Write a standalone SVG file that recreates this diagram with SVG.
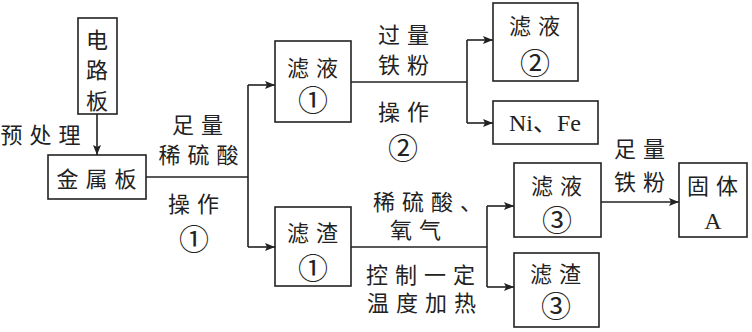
<svg xmlns="http://www.w3.org/2000/svg" width="752" height="332" viewBox="0 0 752 332">
<style>
.b{fill:#fff;stroke:#222;stroke-width:1.6}
.l{fill:none;stroke:#222;stroke-width:1.6}
text{font-family:"Noto Sans CJK SC","Noto Sans CJK JP",sans-serif;font-size:22px;fill:#222;text-anchor:middle;dominant-baseline:central;letter-spacing:7px}
.c{font-size:30px;letter-spacing:0}
.r{font-family:"Liberation Serif","Noto Sans CJK SC",serif;letter-spacing:0;font-size:24px}
</style>
<defs>
<marker id="a" viewBox="0 0 10 8" refX="10" refY="4" markerWidth="10" markerHeight="8" markerUnits="userSpaceOnUse" orient="auto">
<path d="M0,0L10,4L0,8L2,4z" fill="#222"/>
</marker>
</defs>
<g id="connectors">
<path class="l" d="M97,114V155" marker-end="url(#a)"/>
<path class="l" d="M146,177H248"/>
<path class="l" d="M248,85V247"/>
<path class="l" d="M248,85H275" marker-end="url(#a)"/>
<path class="l" d="M248,247H275" marker-end="url(#a)"/>
<path class="l" d="M351,82H467"/>
<path class="l" d="M467,40V123"/>
<path class="l" d="M467,40H493" marker-end="url(#a)"/>
<path class="l" d="M467,123H493" marker-end="url(#a)"/>
<path class="l" d="M351,247H487"/>
<path class="l" d="M487,206V287"/>
<path class="l" d="M487,206H514" marker-end="url(#a)"/>
<path class="l" d="M487,287H514" marker-end="url(#a)"/>
<path class="l" d="M601,202H679" marker-end="url(#a)"/>
<text x="44" y="133">预处理</text>
<text x="201" y="123">足量</text>
<text x="202" y="153">稀硫酸</text>
<text x="197" y="202">操作</text>
<text class="c" x="194" y="237">①</text>
<text x="407" y="33">过量</text>
<text x="407" y="63">铁粉</text>
<text x="407" y="110">操作</text>
<text class="c" x="403" y="146">②</text>
<text x="373" y="200" style="text-anchor:start">稀硫酸、</text>
<text x="419" y="228">氧气</text>
<text x="424" y="273">控制一定</text>
<text x="425" y="301">温度加热</text>
<text x="643" y="147">足量</text>
<text x="643" y="180">铁粉</text>
</g>
<g id="n-dianluban">
<rect class="b" x="78" y="18" width="39" height="96"/>
<text x="97" y="38" style="letter-spacing:0">电</text>
<text x="97" y="68" style="letter-spacing:0">路</text>
<text x="97" y="99" style="letter-spacing:0">板</text>
</g>
<g id="n-jinshuban">
<rect class="b" x="48" y="155" width="98" height="44"/>
<text x="100" y="177">金属板</text>
</g>
<g id="n-lvye1">
<rect class="b" x="275" y="41" width="76" height="81"/>
<text x="316" y="66">滤液</text>
<text class="c" x="313" y="98">①</text>
</g>
<g id="n-lvzha1">
<rect class="b" x="275" y="207" width="76" height="79"/>
<text x="316" y="231">滤渣</text>
<text class="c" x="313" y="266">①</text>
</g>
<g id="n-lvye2">
<rect class="b" x="493" y="3" width="85" height="78"/>
<text x="538" y="24">滤液</text>
<text class="c" x="535" y="61">②</text>
</g>
<g id="n-nife">
<rect class="b" x="493" y="101" width="105" height="43"/>
<text class="r" x="545" y="123">Ni、Fe</text>
</g>
<g id="n-lvye3">
<rect class="b" x="514" y="163" width="87" height="74"/>
<text x="560" y="184">滤液</text>
<text class="c" x="557" y="218">③</text>
</g>
<g id="n-lvzha3">
<rect class="b" x="514" y="253" width="85" height="74"/>
<text x="559" y="272">滤渣</text>
<text class="c" x="556" y="304">③</text>
</g>
<g id="n-guti">
<rect class="b" x="679" y="163" width="68" height="74"/>
<text x="716" y="184">固体</text>
<text class="r" x="713" y="221">A</text>
</g>
</svg>
